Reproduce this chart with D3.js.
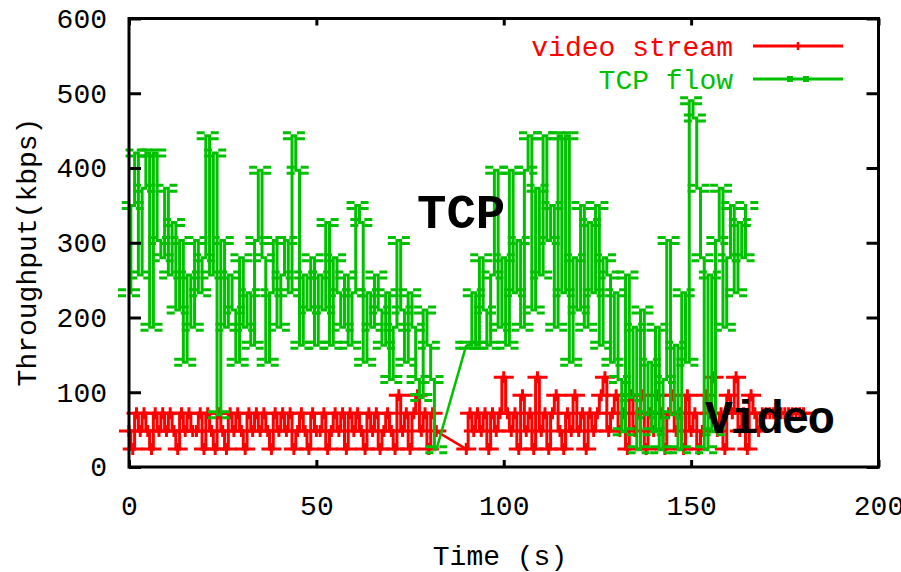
<!DOCTYPE html>
<html>
<head>
<meta charset="utf-8">
<script src="https://cdn.jsdelivr.net/npm/d3@7"></script>
<style>
  body { margin: 0; background: #fff; }
  text { font-family: "Liberation Mono", "DejaVu Sans Mono", monospace; }
</style>
</head>
<body>
<svg width="901" height="572"></svg>
<script>
const width = 901;
const height = 572;

// time axis: one sample per second, both traces have a gap around 83-89 s
const tcpTime = [...d3.range(0, 83), ...d3.range(90, 166)];
const videoTime = [...d3.range(0, 83), ...d3.range(90, 181)];

// throughput in kbps
const tcpRate = [
  233, 350, 420, 257, 373, 420, 187, 420, 303, 280,
  373, 257, 327, 210, 303, 140, 257, 187, 303, 233,
  280, 443, 257, 420, 70, 303, 187, 257, 210, 140,
  280, 187, 233, 163, 303, 397, 280, 140, 233, 303,
  187, 257, 303, 233, 443, 397, 163, 257, 210, 280,
  163, 257, 210, 327, 163, 280, 233, 187, 257, 163,
  233, 350, 327, 140, 233, 187, 257, 210, 163, 233,
  117, 187, 303, 210, 140, 233, 187, 117, 93, 210,
  163, 117, 23,
  163, 163, 233, 163, 280, 210, 163, 257, 397, 187,
  280, 163, 397, 233, 303, 187, 397, 443, 210, 373,
  257, 443, 303, 350, 187, 443, 233, 443, 140, 280,
  210, 350, 187, 327, 233, 350, 163, 280, 257, 140,
  233, 117, 47, 257, 93, 187, 23, 210, 70, 140,
  47, 187, 23, 117, 303, 70, 163, 23, 233, 140,
  490, 467, 373, 280, 23, 257, 47, 303, 373, 187,
  280, 350, 233, 327, 280, 350
];

const videoRate = [
  48, 24, 72, 48, 72, 48, 24, 72, 48, 72,
  48, 72, 48, 24, 72, 48, 72, 48, 48, 72,
  24, 72, 48, 24, 72, 48, 24, 72, 48, 72,
  48, 24, 72, 48, 72, 48, 72, 48, 24, 72,
  48, 72, 48, 72, 24, 48, 72, 48, 24, 72,
  48, 48, 72, 24, 48, 72, 48, 72, 24, 72,
  48, 72, 48, 24, 72, 48, 72, 24, 48, 72,
  48, 24, 96, 48, 72, 24, 72, 96, 48, 72,
  24, 72, 48,
  24, 72, 48, 72, 48, 72, 24, 72, 48, 72,
  120, 72, 48, 72, 24, 96, 48, 72, 24, 120,
  48, 72, 24, 72, 96, 48, 24, 72, 48, 96,
  48, 72, 24, 72, 48, 72, 96, 120, 48, 72,
  96, 48, 72, 24, 96, 48, 72, 96, 24, 72,
  48, 96, 72, 24, 72, 96, 48, 72, 24, 96,
  48, 72, 24, 48, 96, 72, 120, 48, 72, 24,
  96, 72, 120, 48, 72, 24, 96, 72, 48, 72,
  72, 72, 72, 72, 72, 72, 72, 72, 72, 72,
  72
];

const xTicks = [0, 50, 100, 150, 200];
const yTicks = [0, 100, 200, 300, 400, 500, 600];
const seriesNames = ["video stream", "TCP flow"];

const red = "#ff0000";
const green = "#00c000";

const margin = { left: 129, right: 22.5, top: 18.5, bottom: 105 };

const x = d3.scaleLinear().domain([0, 200]).range([margin.left, width - margin.right]);
const y = d3.scaleLinear().domain([0, 600]).range([height - margin.bottom, margin.top]);

const svg = d3.select("svg");

const video = videoTime.map((t, i) => ({ t, v: videoRate[i] }));
const tcp = tcpTime.map((t, i) => ({ t, v: tcpRate[i] }));

const stepLine = d3.line().x(d => x(d.t)).y(d => y(d.v)).curve(d3.curveStep);
const straight = d3.line().x(d => x(d.t)).y(d => y(d.v));

// split a trace where samples are missing; runs are stepped, gaps bridged straight
function drawTrace(data, color, marker, dash) {
  const g = svg.append("g");
  const runs = [[data[0]]];
  for (let i = 1; i < data.length; i++) {
    if (data[i].t - data[i - 1].t > 1) runs.push([]);
    runs[runs.length - 1].push(data[i]);
  }
  g.selectAll("path.run")
    .data(runs)
    .join("path")
      .attr("class", "run")
      .attr("fill", "none")
      .attr("stroke", color)
      .attr("stroke-width", 3)
      .attr("d", stepLine);
  const bridges = runs.slice(1).map((r, i) => [runs[i][runs[i].length - 1], r[0]]);
  g.selectAll("path.bridge")
    .data(bridges)
    .join("path")
      .attr("class", "bridge")
      .attr("fill", "none")
      .attr("stroke", color)
      .attr("stroke-width", 2.5)
      .attr("d", straight);
  g.selectAll("path.pt")
    .data(data)
    .join("path")
      .attr("class", "pt")
      .attr("transform", d => `translate(${x(d.t)},${y(d.v)})`)
      .attr("d", marker)
      .attr("stroke", color)
      .attr("stroke-width", 3)
      .attr("stroke-dasharray", dash);
}

drawTrace(video, red, "M-10,0H10M0,-6V6", null);
drawTrace(tcp, green, "M-11,-3H11M-11,3H11", "8,6,8");

// axes, ticks inward
const fs = 28;
const styleAxis = g => {
  g.select(".domain").remove();
  g.selectAll(".tick line").attr("stroke", "#000").attr("stroke-width", 3);
  g.selectAll(".tick text").attr("fill", "#000").attr("font-size", fs)
    .attr("font-family", '"Liberation Mono", monospace');
};

svg.append("g")
    .attr("transform", `translate(${margin.left},0)`)
    .call(d3.axisLeft(y).tickValues(yTicks).tickSize(-12).tickPadding(22))
    .call(styleAxis);
svg.append("g")
    .attr("transform", `translate(${width - margin.right},0)`)
    .call(d3.axisRight(y).tickValues(yTicks).tickSize(-12).tickFormat(""))
    .call(styleAxis);
svg.append("g")
    .attr("transform", `translate(0,${height - margin.bottom})`)
    .call(d3.axisBottom(x).tickValues(xTicks).tickSize(-7).tickPadding(28))
    .call(styleAxis);
svg.append("g")
    .attr("transform", `translate(0,${margin.top})`)
    .call(d3.axisTop(x).tickValues(xTicks).tickSize(-7).tickFormat(""))
    .call(styleAxis);

svg.append("rect")
    .attr("x", margin.left)
    .attr("y", margin.top)
    .attr("width", width - margin.left - margin.right)
    .attr("height", height - margin.top - margin.bottom)
    .attr("fill", "none")
    .attr("stroke", "#000")
    .attr("stroke-width", 3);

// axis titles
svg.append("text")
    .attr("x", 500)
    .attr("y", 565)
    .attr("text-anchor", "middle")
    .attr("font-size", fs)
    .text("Time (s)");
svg.append("text")
    .attr("transform", "translate(36,252) rotate(-90)")
    .attr("text-anchor", "middle")
    .attr("font-size", fs)
    .text("Throughput(kbps)");

// legend
const legend = svg.append("g");
[red, green].forEach((c, i) => {
  const ly = 46 + i * 33;
  legend.append("text")
      .attr("x", 733)
      .attr("y", ly)
      .attr("dy", "0.35em")
      .attr("text-anchor", "end")
      .attr("font-size", fs)
      .attr("fill", c)
      .text(seriesNames[i]);
  legend.append("line")
      .attr("x1", 753).attr("x2", 843)
      .attr("y1", ly).attr("y2", ly)
      .attr("stroke", c)
      .attr("stroke-width", 3);
});
legend.append("line")
    .attr("x1", 798).attr("x2", 798)
    .attr("y1", 42).attr("y2", 50)
    .attr("stroke", red)
    .attr("stroke-width", 2.5);
[790, 806].forEach(px => {
  legend.append("rect")
      .attr("x", px - 3).attr("y", 79 - 3)
      .attr("width", 6).attr("height", 6)
      .attr("fill", green);
});

// annotations
svg.append("text")
    .attr("x", 417)
    .attr("y", 228)
    .attr("font-family", '"Liberation Sans", Arial, sans-serif')
    .attr("font-weight", "bold")
    .attr("font-size", 49)
    .text("TCP");
svg.append("text")
    .attr("x", 705)
    .attr("y", 433)
    .attr("font-family", '"Liberation Sans", Arial, sans-serif')
    .attr("font-weight", "bold")
    .attr("font-size", 46)
    .attr("letter-spacing", -2)
    .text("Video");
</script>
</body>
</html>
